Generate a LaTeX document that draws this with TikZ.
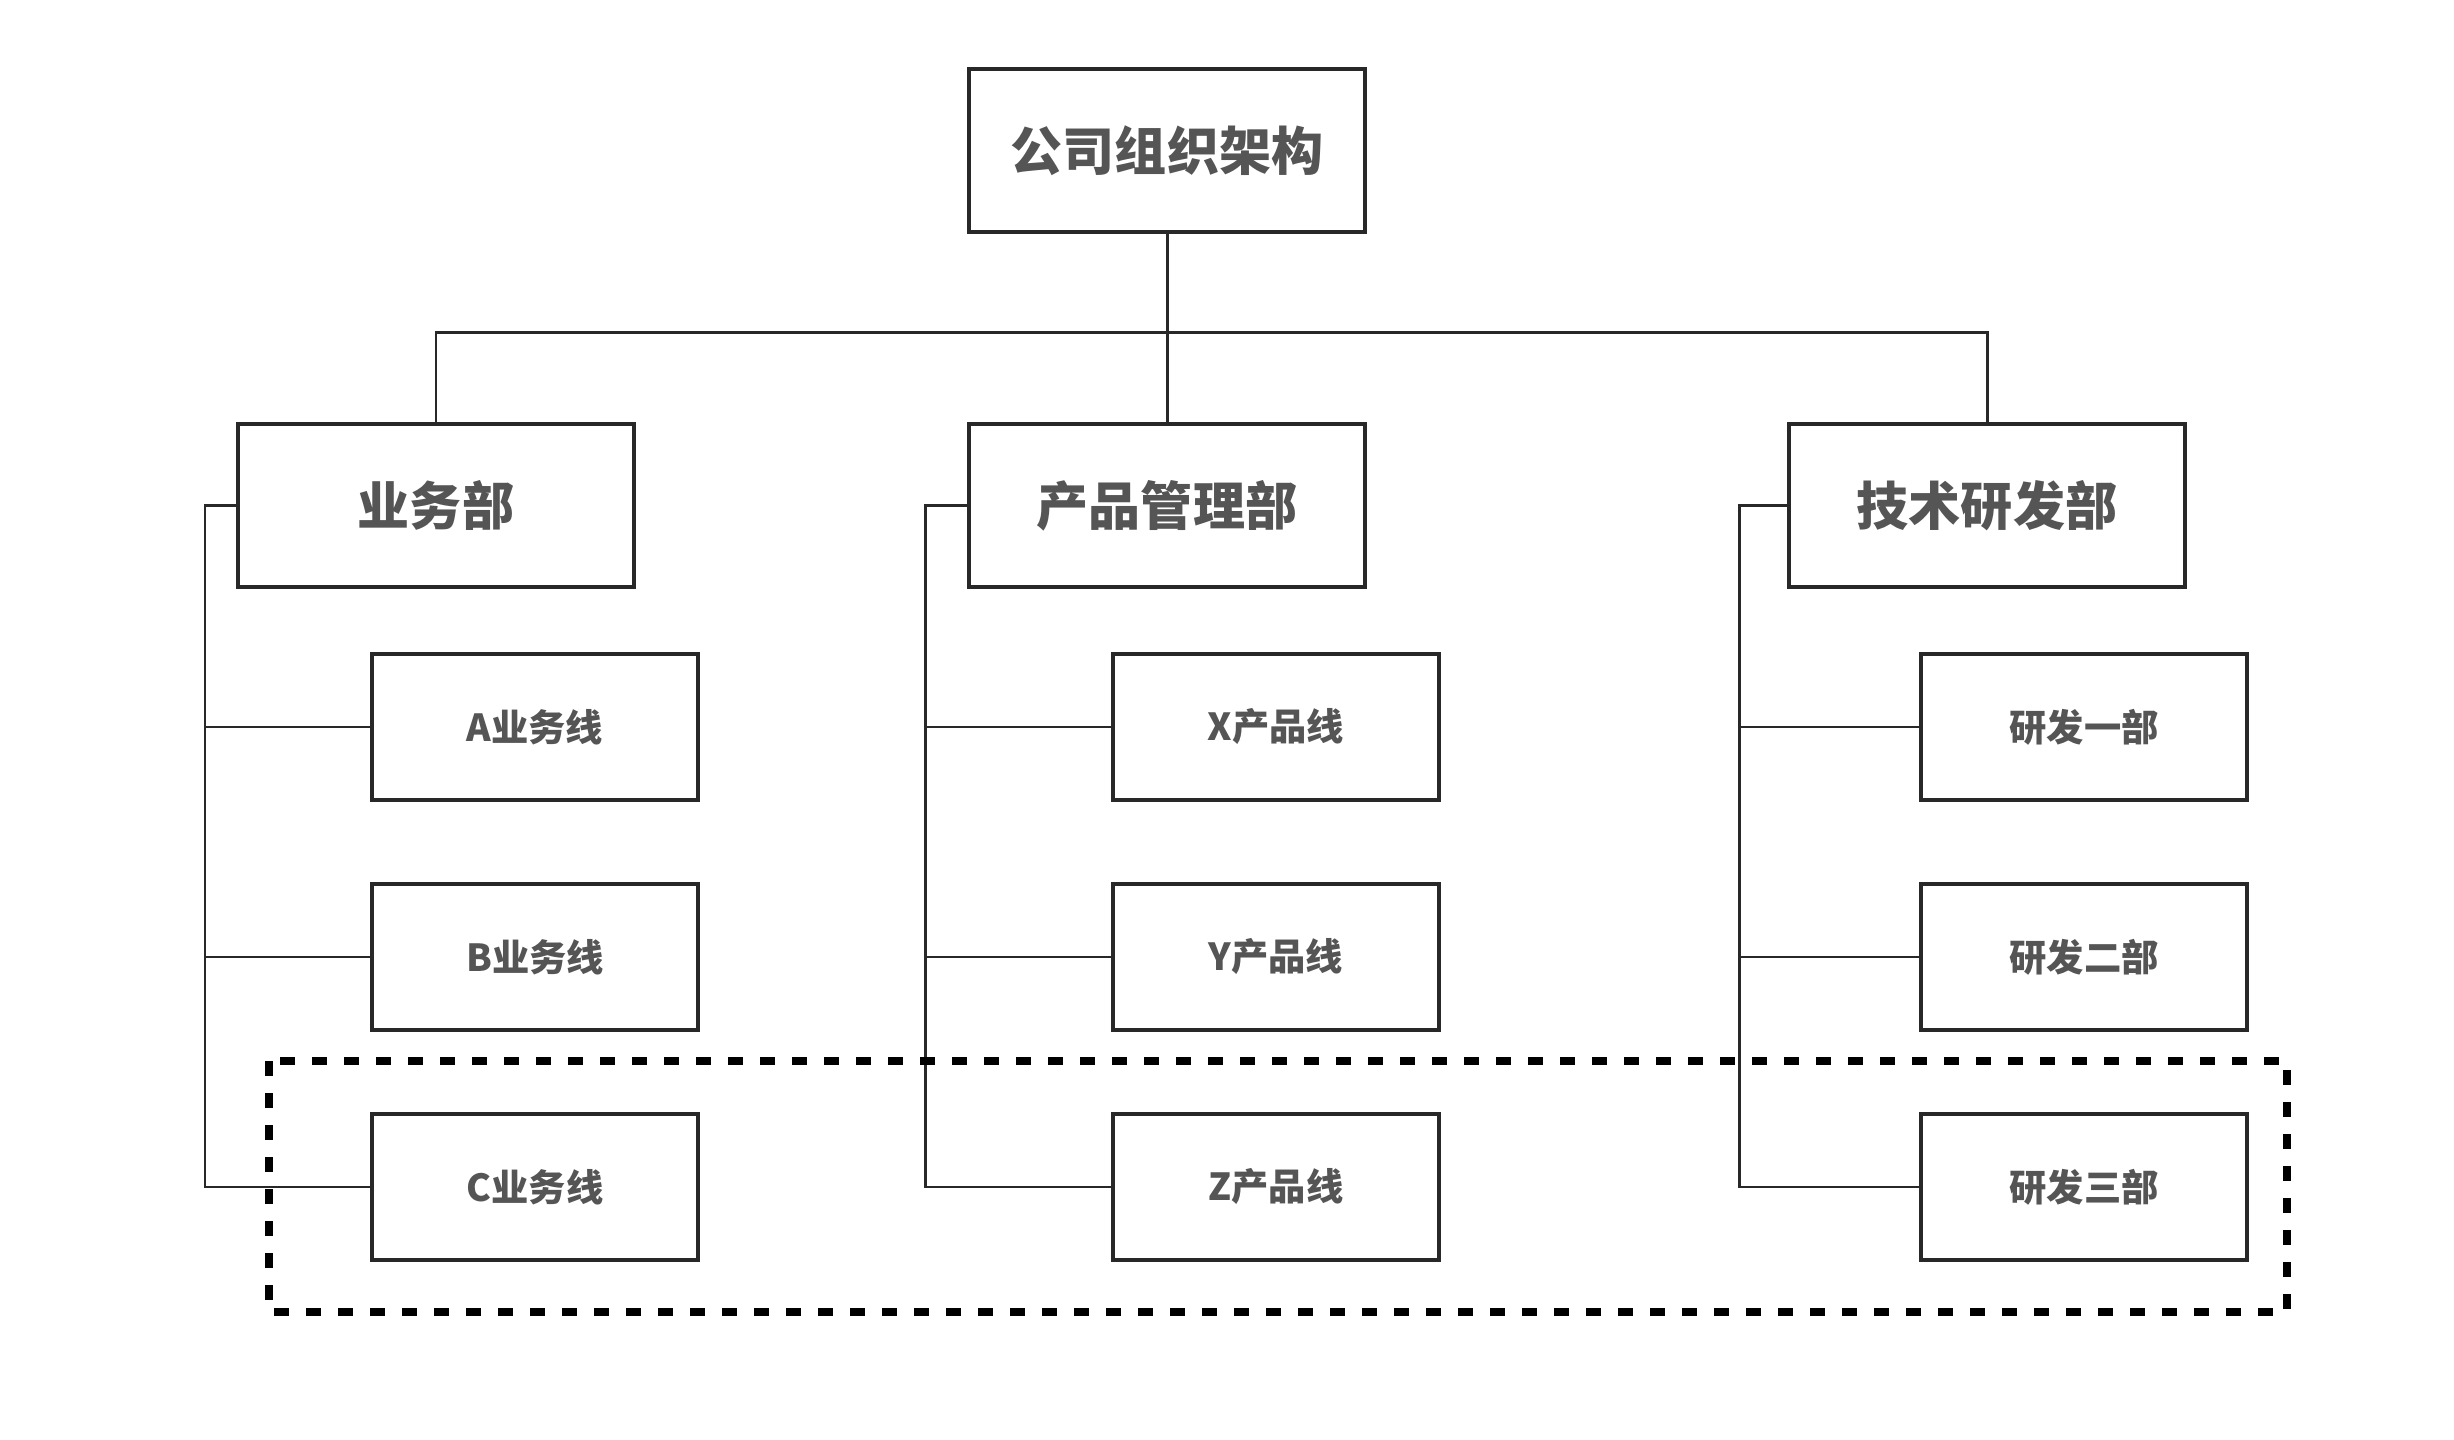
\documentclass[tikz,border=0pt]{standalone}
\usepackage{fontspec}
\setmainfont{Noto Sans CJK SC}
\usepackage{xcolor}
\definecolor{boxline}{RGB}{40,40,40}
\definecolor{labelgray}{RGB}{85,85,85}
\usepackage{tikz}
\usetikzlibrary{positioning, calc}

\tikzset{
  headbox/.style={draw=boxline, line width=1.1pt, fill=white, minimum width=3.96cm, minimum height=1.63cm,
    font=\fontsize{14.8}{16}\selectfont\bfseries, text=labelgray},
  linebox/.style={draw=boxline, line width=1.1pt, fill=white, minimum width=3.26cm, minimum height=1.46cm,
    font=\fontsize{10.6}{12}\selectfont\bfseries, text=labelgray},
  wire/.style={draw=boxline, line width=0.85pt},
  focus/.style={draw=black, line width=2.1pt, dash pattern=on 4.3pt off 4.8pt}
}

\begin{document}
\begin{tikzpicture}[x=0.01cm, y=-0.01cm]
  \useasboundingbox[fill=white] (0,0) rectangle (2454,1440);

  % Top level
  \node[headbox] (company) at (1167,150.5) {公司组织架构};

  % Departments
  \node[headbox] (biz)  at (436,505.5)  {业务部};
  \node[headbox] (prod) at (1167,505.5) {产品管理部};
  \node[headbox] (tech) at (1987,505.5) {技术研发部};

  % Lines under each department
  \node[linebox] (bizA) at (535,727)  {A业务线};
  \node[linebox] (bizB) at (535,957)  {B业务线};
  \node[linebox] (bizC) at (535,1187) {C业务线};

  \node[linebox] (prodX) at (1276,727)  {X产品线};
  \node[linebox] (prodY) at (1276,957)  {Y产品线};
  \node[linebox] (prodZ) at (1276,1187) {Z产品线};

  \node[linebox] (tech1) at (2084,727)  {研发一部};
  \node[linebox] (tech2) at (2084,957)  {研发二部};
  \node[linebox] (tech3) at (2084,1187) {研发三部};

  % Bus from the top box
  \coordinate (bus) at (1167,333);
  \draw[wire] (company.south) -- (prod.north);
  \draw[wire] (biz.north) |- (bus) -| (tech.north);

  % Spines
  \coordinate (bizspine)  at (205,1187);
  \coordinate (prodspine) at (925,1187);
  \coordinate (techspine) at (1739,1187);

  \draw[wire] (biz.west) -| (bizspine) -- (bizC.west);
  \draw[wire] (bizA.west) -- (bizA.west -| bizspine);
  \draw[wire] (bizB.west) -- (bizB.west -| bizspine);

  \draw[wire] (prod.west) -| (prodspine) -- (prodZ.west);
  \draw[wire] (prodX.west) -- (prodX.west -| prodspine);
  \draw[wire] (prodY.west) -- (prodY.west -| prodspine);

  \draw[wire] (tech.west) -| (techspine) -- (tech3.west);
  \draw[wire] (tech1.west) -- (tech1.west -| techspine);
  \draw[wire] (tech2.west) -- (tech2.west -| techspine);

  % Dashed frame round the third row
  \draw[focus] (269,1061) rectangle (2287,1312);
\end{tikzpicture}
\end{document}
